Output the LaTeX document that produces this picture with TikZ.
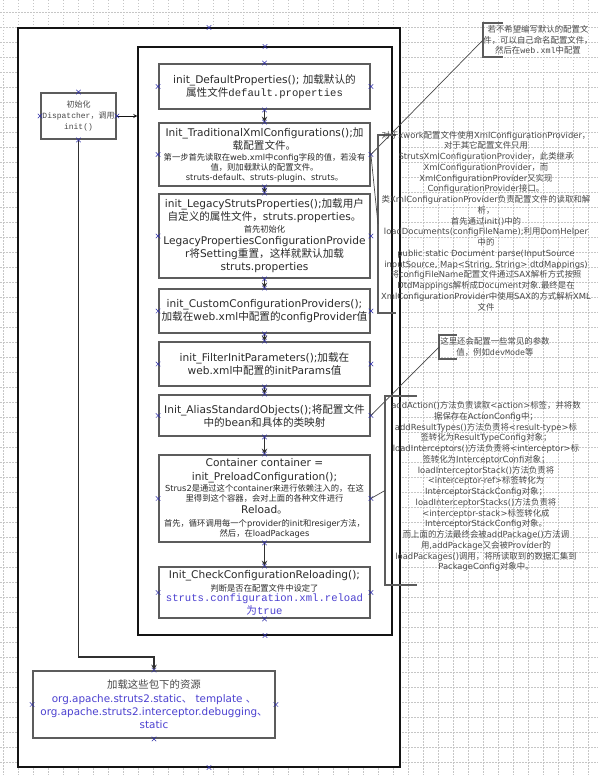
\documentclass[tikz,border=0pt]{standalone}
\usepackage{fontspec}
\setmainfont{DejaVu Sans}
\setmonofont{Liberation Mono}
\newfontfamily\cjk{Noto Sans CJK SC}
\usetikzlibrary{shapes.misc}

% Han characters and full-width punctuation switch to the CJK face
\XeTeXinterchartokenstate=1
\newXeTeXintercharclass\HanClass
\newcount\hanpos
\hanpos="3000
\loop
  \XeTeXcharclass\hanpos=\HanClass
  \ifnum\hanpos<"9FFF \advance\hanpos by 1 \repeat
\hanpos="FF00
\loop
  \XeTeXcharclass\hanpos=\HanClass
  \ifnum\hanpos<"FFEF \advance\hanpos by 1 \repeat
\XeTeXinterchartoks 0 \HanClass = {\begingroup\cjk}
\XeTeXinterchartoks 4095 \HanClass = {\begingroup\cjk}
\XeTeXinterchartoks \HanClass 0 = {\endgroup}
\XeTeXinterchartoks \HanClass 4095 = {\endgroup}

\definecolor{FrameInk}{HTML}{141414}
\definecolor{BoxEdge}{HTML}{5C5C5C}
\definecolor{BoxInk}{HTML}{2A2A2A}
\definecolor{NoteInk}{HTML}{484848}
\definecolor{FlowInk}{HTML}{303030}
\definecolor{PathBlue}{HTML}{4B40D0}
\definecolor{PinBlue}{HTML}{2E2EA8}
\definecolor{GridGray}{HTML}{C6C6C6}

\newcommand\fbig{\fontsize{10.6bp}{13bp}\selectfont}
\newcommand\fsml{\fontsize{8.3bp}{10bp}\selectfont}
\newcommand\fnote{\fontsize{8.4bp}{10.75bp}\selectfont}
\newcommand\fpkg{\fontsize{10.4bp}{13.3bp}\selectfont}
\newcommand\finit{\fontsize{8bp}{11bp}\selectfont}

\begin{document}
\begin{tikzpicture}[x=1bp,y=-1bp,>=stealth,
  gridline/.style={draw=GridGray,line width=0.5bp,dash pattern=on 1.5bp off 1.5bp},
  framebox/.style={draw=FrameInk,line width=1.1bp,inner sep=0pt},
  stepbox/.style={draw=BoxEdge,line width=1.8bp,fill=white,minimum width=211bp,inner sep=0pt,align=center,text=BoxInk,font=\fbig},
  cpoint/.style={draw=PinBlue,cross out,line width=0.5bp,inner sep=0pt,minimum size=4bp},
  flow/.style={->,draw=FlowInk,line width=1.4bp},
  leader/.style={draw=NoteInk,line width=0.7bp},
  bracket/.style={draw=BoxEdge,line width=1.3bp},
  notetext/.style={align=center,text=NoteInk,inner sep=0pt,font=\fnote}]
\useasboundingbox (0,0) rectangle (598,775);

% background grid
\foreach \gx in {3,18,...,588} \draw[gridline] (\gx,0) -- (\gx,775);
\foreach \gy in {12,27,...,762} \draw[gridline] (0,\gy) -- (598,\gy);

% frames
\node[framebox,fill=white,minimum width=382bp,minimum height=739bp] (outer) at (209,397.5) {};
\node[framebox,minimum width=254bp,minimum height=588bp] (inner) at (265,341) {};

% init steps
\node[stepbox,minimum height=45bp] (defprops) at (264.5,86.5)
  {init\_DefaultProperties(); 加载默认的\\
   属性文件{\ttfamily default.properties}};
\node[stepbox,minimum height=63bp] (xmlconf) at (264.5,154.5)
  {Init\_TraditionalXmlConfigurations();加\\
   载配置文件。\\[-2bp]
   \fsml 第一步首先读取在web.xml中config字段的值，若没有\\[-3bp]
   \fsml 值，则加载默认的配置文件。\\[-3bp]
   \fsml struts-default、struts-plugin、struts。};
\node[stepbox,minimum height=84bp] (legacy) at (264.5,236)
  {init\_LegacyStrutsProperties();加载用户\\
   自定义的属性文件，struts.properties。\\[-1bp]
   \fsml 首先初始化\\[-1bp]
   \fbig LegacyPropertiesConfigurationProvide\\
   r将Setting重置，这样就默认加载\\
   struts.properties};
\node[stepbox,minimum height=44bp] (custom) at (264.5,311)
  {init\_CustomConfigurationProviders();\\
   加载在web.xml中配置的configProvider值};
\node[stepbox,minimum height=44bp] (filterinit) at (264.5,364)
  {init\_FilterInitParameters();加载在\\
   web.xml中配置的initParams值};
\node[stepbox,minimum height=41bp] (alias) at (264.5,415.5)
  {Init\_AliasStandardObjects();将配置文件\\
   中的bean和具体的类映射};
\node[stepbox,minimum height=87bp] (preload) at (264.5,498.5)
  {Container container =\\[1bp]
   init\_PreloadConfiguration();\\[-2bp]
   \fsml Strus2是通过这个container来进行依赖注入的，在这\\[-3bp]
   \fsml 里得到这个容器，会对上面的各种文件进行\\[-1bp]
   \fbig Reload。\\[0bp]
   \fsml 首先，循环调用每一个provider的init和resiger方法，\\[-3bp]
   \fsml 然后，在loadPackages};
\node[stepbox,minimum height=51bp] (reloading) at (264.5,592.5)
  {Init\_CheckConfigurationReloading();\\[0bp]
   \fsml 判断是否在配置文件中设定了\\[-3bp]
   \fbig\color{PathBlue}\ttfamily struts.configuration.xml.reload\\
   \fbig\color{PathBlue}为\ttfamily true};

\draw[flow] (defprops) -- (xmlconf);
\draw[flow] (xmlconf) -- (legacy);
\draw[flow] (legacy) -- (custom);
\draw[flow] (custom) -- (filterinit);
\draw[flow] (filterinit) -- (alias);
\draw[flow] (alias) -- (preload);
\draw[flow] (preload) -- (reloading);

% dispatcher and resources
\node[stepbox,minimum width=75bp,minimum height=46bp,font=\finit\ttfamily,text=NoteInk] (dispatcher) at (78.5,116)
  {初始化\\Dispatcher，调用\\init()};
\node[stepbox,minimum width=242bp,minimum height=67bp,font=\fpkg] (statics) at (154,704.5)
  {{\color{NoteInk}加载这些包下的资源}\\
   \color{PathBlue}org.apache.struts2.static、 template 、\\
   \color{PathBlue}org.apache.struts2.interceptor.debugging、\\
   \color{PathBlue}static};
\coordinate (drop) at (78.5,657);
\draw[->,draw=FrameInk,line width=0.9bp] (dispatcher.east) -- (dispatcher.east -| inner.west);
\draw[flow] (dispatcher.south) -- (drop) -| (statics.north);

% connection points
\foreach \b in {defprops,xmlconf,legacy,custom,filterinit,alias,preload,reloading,statics,dispatcher}
  \foreach \a in {north,south,east,west}
    \node[cpoint] (\b-\a-pt) at (\b.\a) {};
\foreach \a in {north,south} {
  \node[cpoint] (outer-\a-pt) at (outer.\a) {};
  \node[cpoint] (inner-\a-pt) at (inner.\a) {};
}

% notes
\coordinate (noteDefaultTip) at (483,40);
\draw[bracket] (noteDefaultTip) ++(20,-17) -- ++(-20,0) -- ++(0,34) -- ++(20,0);
\node[notetext,font=\fnote\ttfamily] (noteDefault) at (538,40)
  {若不希望编写默认的配置文\\件，可以自己命名配置文件，\\然后在web.xml中配置};
\draw[leader] (noteDefaultTip) -- (xmlconf.east);

\coordinate (noteXmlTip) at (378,224);
\draw[bracket] (noteXmlTip) ++(18,-89) -- ++(-18,0) -- ++(0,178) -- ++(18,0);
\node[notetext] (noteXml) at (486,221)
  {对于xwork配置文件使用XmlConfigurationProvider，\\
   对于其它配置文件只用\\
   StrutsXmlConfigurationProvider，此类继承\\
   XmlConfigurationProvider，而\\
   XmlConfigurationProvider又实现\\
   ConfigurationProvider接口。\\
   类XmlConfigurationProvider负责配置文件的读取和解\\
   析，\\
   首先通过init()中的\\
   loadDocuments(configFileName);利用DomHelper\\
   中的\\
   public static Document parse(InputSource\\
   inputSource, Map<String, String> dtdMappings)\\
   将configFileName配置文件通过SAX解析方式按照\\
   DtdMappings解析成Document对象.最终是在\\
   XmlConfigurationProvider中使用SAX的方式解析XML\\
   文件};
\draw[leader] (xmlconf.east) -- (noteXmlTip);

\coordinate (noteParamsTip) at (439,347);
\draw[bracket] (noteParamsTip) ++(18,-12) -- ++(-18,0) -- ++(0,24) -- ++(18,0);
\node[notetext,font=\fnote\ttfamily] (noteParams) at (495,347)
  {这里还会配置一些常见的参数\\值，例如devMode等};
\draw[leader] (noteParamsTip) -- (alias.east);

\coordinate (notePackagesTip) at (385,490.5);
\draw[bracket] (notePackagesTip) ++(32,-94.5) -- ++(-32,0) -- ++(0,189) -- ++(32,0);
\node[notetext] (notePackages) at (486,486.5)
  {addAction()方法负责读取<action>标签，并将数\\
   据保存在ActionConfig中；\\
   addResultTypes()方法负责将<result-type>标\\
   签转化为ResultTypeConfig对象；\\
   loadInterceptors()方法负责将<interceptor>标\\
   签转化为InterceptorConfi对象；\\
   loadInterceptorStack()方法负责将\\
   <interceptor-ref>标签转化为\\
   InterceptorStackConfig对象；\\
   loadInterceptorStacks()方法负责将\\
   <interceptor-stack>标签转化成\\
   InterceptorStackConfig对象。\\
   而上面的方法最终会被addPackage()方法调\\
   用,addPackage又会被Provider的\\
   loadPackages()调用，将所读取到的数据汇集到\\
   PackageConfig对象中。};
\draw[leader] (preload.east) -- (notePackagesTip);
\end{tikzpicture}
\end{document}
